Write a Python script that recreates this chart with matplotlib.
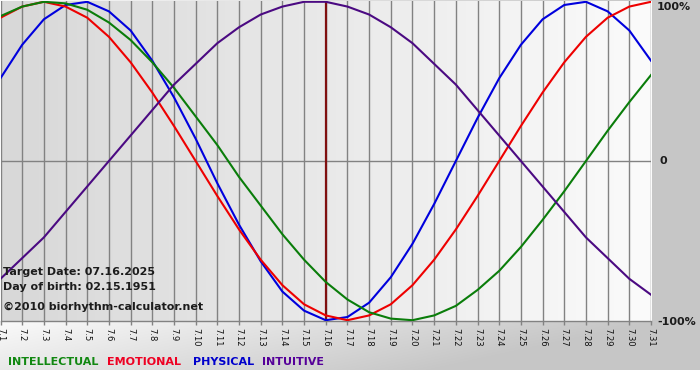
import numpy as np
import matplotlib
matplotlib.use("Agg")
import matplotlib.pyplot as plt
from matplotlib.colors import LinearSegmentedColormap

# ---- data ----
days = list(range(1, 32))
tick_labels = ["7.%d" % d for d in days]
physical = [0.52, 0.73, 0.89, 0.98, 1.00, 0.94, 0.82, 0.63, 0.40, 0.14, -0.14,
            -0.40, -0.63, -0.82, -0.94, -1.00, -0.98, -0.89, -0.73, -0.52, -0.27,
            0.00, 0.27, 0.52, 0.73, 0.89, 0.98, 1.00, 0.94, 0.82, 0.63]
emotional = [0.90, 0.97, 1.00, 0.97, 0.90, 0.78, 0.62, 0.43, 0.22, 0.00, -0.22,
             -0.43, -0.62, -0.78, -0.90, -0.97, -1.00, -0.97, -0.90, -0.78, -0.62,
             -0.43, -0.22, 0.00, 0.22, 0.43, 0.62, 0.78, 0.90, 0.97, 1.00]
intellectual = [0.91, 0.97, 1.00, 0.99, 0.95, 0.87, 0.76, 0.62, 0.46, 0.28, 0.10,
                -0.10, -0.28, -0.46, -0.62, -0.76, -0.87, -0.95, -0.99, -1.00, -0.97,
                -0.91, -0.81, -0.69, -0.54, -0.37, -0.19, 0.00, 0.19, 0.37, 0.54]
intuitive = [-0.74, -0.61, -0.48, -0.32, -0.16, 0.00, 0.16, 0.32, 0.48, 0.61, 0.74,
             0.84, 0.92, 0.97, 1.00, 1.00, 0.97, 0.92, 0.84, 0.74, 0.61,
             0.48, 0.32, 0.16, 0.00, -0.16, -0.32, -0.48, -0.61, -0.74, -0.84]
target_day = 16
y_labels = ["100%", "0", "-100%"]
legend_names = ["INTELLECTUAL", "EMOTIONAL", "PHYSICAL", "INTUITIVE"]
info_lines = ["Target Date: 07.16.2025", "Day of birth: 02.15.1951",
              "\u00a92010 biorhythm-calculator.net"]

W, H = 700, 380
fig = plt.figure(figsize=(W / 100, H / 100), dpi=100)

# ---- figure background ----
bg = fig.add_axes([0, 0, 1, 1], zorder=-10)
yy, xx = np.mgrid[0:H, 0:W]
t = np.clip(xx / 660.0 + 0.35 * np.clip((yy - 321) / 50.0, 0, 1), 0, 1)
val = (250 - 52 * t) / 255.0
val[yy >= 370] = 1.0
bg.imshow(np.dstack([val, val, val]), extent=[0, W, H, 0], aspect="auto",
          interpolation="nearest")
bg.set_xlim(0, W)
bg.set_ylim(H, 0)
bg.axis("off")

def fx(px):
    return px / W

def fy(py):
    return 1 - py / H

# ---- main axes ----
ax = fig.add_axes([fx(0.5), fy(321), (651 - 0.5) / W, 320 / H])
ax.set_xlim(days[0], days[-1])
ax.set_ylim(-1.005, 1.005)

grad = np.linspace(0, 1, 256).reshape(1, -1)
cmap = LinearSegmentedColormap.from_list("g", ["#d8d8d8", "#fbfbfb"])
ax.imshow(grad, extent=[days[0], days[-1], -1.005, 1.005], aspect="auto",
          cmap=cmap, zorder=0)

for d in days:
    ax.axvline(d, color="#828282", lw=1.0, zorder=1)
ax.axhline(0, color="#828282", lw=1.0, zorder=1)
ax.axvline(target_day, color="#801010", lw=1.6, zorder=2)

ax.plot(days, physical, color="#0000dd", lw=1.5, zorder=3)
ax.plot(days, emotional, color="#ee0000", lw=1.5, zorder=4)
ax.plot(days, intellectual, color="#0a7d0a", lw=1.5, zorder=5)
ax.plot(days, intuitive, color="#4b0a82", lw=1.5, zorder=6)

for s in ["top", "left", "right"]:
    ax.spines[s].set_visible(False)
ax.spines["bottom"].set_color("#828282")
ax.spines["bottom"].set_linewidth(1.0)
ax.set_yticks([])
ax.set_xticks(days)
ax.set_xticklabels(tick_labels, rotation=270, fontsize=6, color="#111111")
ax.tick_params(axis="x", length=3, width=1, color="#828282", pad=2)

# ---- texts ----
bold = dict(fontsize=8, fontweight="bold", family="DejaVu Sans")
for txt, py in zip(info_lines, [272, 287, 307]):
    fig.text(fx(3), fy(py), txt, color="#1c1c1c", va="center", ha="left",
             zorder=20, **bold)

for txt, px, py in zip(y_labels, [657, 660, 657], [7, 161, 322]):
    fig.text(fx(px), fy(py), txt, color="#1c1c1c", va="center", ha="left", **bold)

leg_colors = ["#118811", "#ee0022", "#0000cc", "#550099"]
leg_x = [8, 107, 193, 262]
for txt, c, px in zip(legend_names, leg_colors, leg_x):
    fig.text(fx(px), fy(362), txt, color=c, va="center", ha="left", **bold)

fig.savefig("out.png", dpi=100)
